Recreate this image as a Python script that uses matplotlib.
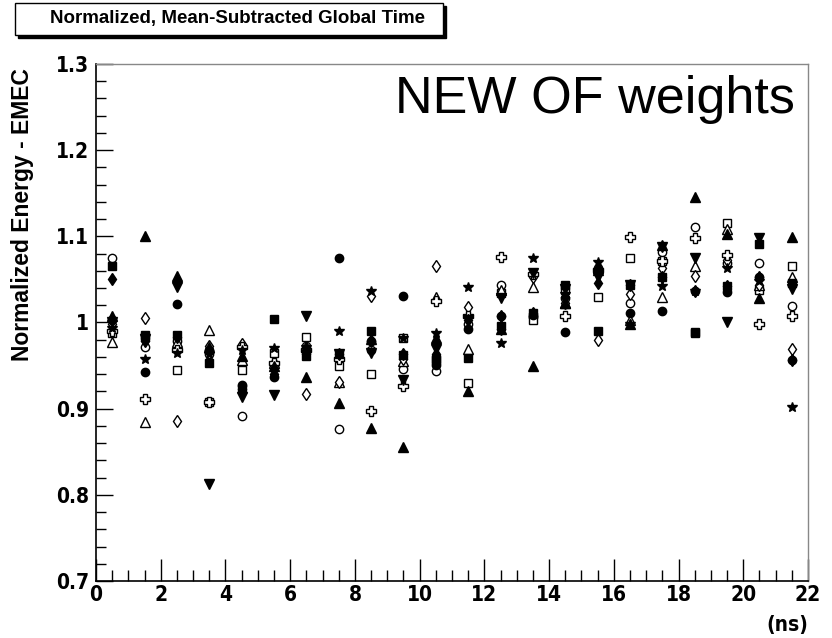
import matplotlib
matplotlib.use("Agg")
import matplotlib.pyplot as plt
from matplotlib.patches import Rectangle
from matplotlib.ticker import MultipleLocator

# time bins (ns)
times = [0.5, 1.5, 2.5, 3.5, 4.5, 5.5, 6.5, 7.5, 8.5, 9.5, 10.5,
         11.5, 12.5, 13.5, 14.5, 15.5, 16.5, 17.5, 18.5, 19.5, 20.5, 21.5]

# normalized energy per channel
filled_circle = [1.003, 0.942, 1.022, 0.968, 0.928, 0.937, 0.967, 1.075, 0.979, 1.031, 0.951,
                 0.992, 1.007, 1.009, 0.989, 1.061, 1.011, 1.013, 1.036, 1.035, 1.053, 0.957]
filled_square = [1.066, 0.986, 0.985, 0.953, 0.923, 1.004, 0.961, 0.963, 0.990, 0.962, 0.957,
                 0.959, 0.996, 1.011, 1.043, 0.990, 1.044, 1.053, 0.988, 1.042, 1.091, 1.046]
filled_tri_up = [1.007, 1.100, 1.054, 0.971, 0.961, 0.950, 0.937, 0.906, 0.878, 0.855, 0.982,
                 0.921, 0.993, 0.950, 1.023, 1.061, 0.998, 1.090, 1.146, 1.103, 1.029, 1.099]
filled_tri_down = [1.001, 0.981, 1.041, 0.812, 0.914, 0.916, 1.008, 0.963, 0.965, 0.933, 0.969,
                   1.003, 1.028, 1.058, 1.039, 1.053, 1.044, 1.088, 1.075, 1.000, 1.098, 1.039]
open_circle = [1.075, 0.971, 0.978, 0.963, 0.892, 0.950, 0.973, 0.876, 0.968, 0.946, 0.944,
               0.998, 1.043, 1.006, 1.028, 1.063, 1.023, 1.082, 1.111, 1.069, 1.069, 1.019]
open_square = [0.988, 0.983, 0.945, 0.908, 0.945, 0.965, 0.983, 0.950, 0.940, 0.982, 0.958,
               0.930, 1.034, 1.003, 1.038, 1.030, 1.075, 1.071, 0.989, 1.115, 1.038, 1.066]
open_tri_up = [0.977, 0.885, 0.977, 0.991, 0.957, 0.953, 0.973, 0.931, 0.981, 0.955, 1.030,
               0.969, 1.038, 1.041, 1.023, 1.063, 1.003, 1.030, 1.065, 1.108, 1.043, 1.053]
open_diamond = [0.998, 1.005, 0.886, 0.973, 0.975, 0.953, 0.917, 0.931, 1.031, 0.958, 1.066,
                1.018, 1.007, 1.053, 1.023, 0.980, 1.033, 1.063, 1.054, 1.073, 1.043, 0.969]
open_cross = [0.990, 0.911, 0.968, 0.908, 0.972, 0.953, 0.968, 0.958, 0.897, 0.926, 1.025,
              1.008, 1.076, 1.056, 1.007, 1.061, 1.099, 1.071, 1.098, 1.078, 0.998, 1.007]
star = [0.994, 0.958, 0.965, 0.963, 0.968, 0.970, 0.971, 0.990, 1.036, 0.982, 0.988,
        1.041, 0.976, 1.075, 1.033, 1.070, 0.998, 1.042, 1.036, 1.063, 1.048, 0.902]
filled_diamond = [1.050, 0.978, 0.983, 0.968, 0.923, 0.940, 0.963, 0.963, 0.978, 0.963, 0.963,
                  1.003, 0.993, 1.011, 1.030, 1.046, 1.044, 1.053, 1.036, 1.042, 1.053, 0.957]

# (values, marker, filled, size)
series = [
    (open_circle, "o", False, 6),
    (open_square, "s", False, 6),
    (open_tri_up, "^", False, 6.5),
    (open_diamond, "d", False, 6.5),
    (open_cross, "P", False, 7),
    (filled_circle, "o", True, 6),
    (filled_square, "s", True, 5.5),
    (filled_tri_up, "^", True, 6.5),
    (filled_tri_down, "v", True, 6.5),
    (star, "*", True, 7.5),
    (filled_diamond, "d", True, 6.5),
]

tick_font = dict(family="DejaVu Sans", stretch="condensed", weight="bold", size=15)

fig = plt.figure(figsize=(8.32, 6.38), dpi=100)
ax = fig.add_axes([96 / 832, 1 - 581 / 638, (808 - 96) / 832, (581 - 64) / 638])

for vals, m, filled, ms in series:
    ax.plot(times, vals, linestyle="none", marker=m, markersize=ms,
            markerfacecolor="black" if filled else "white",
            markeredgecolor="black", markeredgewidth=1.0)

ax.set_xlim(0, 22)
ax.set_ylim(0.7, 1.3)
ax.xaxis.set_major_locator(MultipleLocator(2))
ax.xaxis.set_minor_locator(MultipleLocator(0.5))
ax.yaxis.set_major_locator(MultipleLocator(0.1))
ax.yaxis.set_minor_locator(MultipleLocator(0.02))
ax.tick_params(axis="x", which="major", direction="in", length=16, width=1, pad=3)
ax.tick_params(axis="x", which="minor", direction="in", length=8, width=1)
ax.tick_params(axis="y", which="major", direction="in", length=12, width=1, pad=5)
ax.tick_params(axis="y", which="minor", direction="in", length=7, width=1)
ax.set_xticks(range(0, 23, 2))
ax.set_xticklabels([str(v) for v in range(0, 23, 2)], fontdict=tick_font)
yt = [0.7, 0.8, 0.9, 1.0, 1.1, 1.2, 1.3]
ax.set_yticks(yt)
ax.set_yticklabels(["0.7", "0.8", "0.9", "1", "1.1", "1.2", "1.3"], fontdict=tick_font)

for s in ["top", "right"]:
    ax.spines[s].set_color("#888888")
    ax.spines[s].set_linewidth(1.0)
for s in ["left", "bottom"]:
    ax.spines[s].set_color("black")
    ax.spines[s].set_linewidth(1.2)

ax.text(0.982, 0.905, "NEW OF weights", transform=ax.transAxes, ha="right", va="baseline",
        fontsize=37.5, family="Liberation Sans")

fig.text(808 / 832, 1 - 625 / 638, "(ns)", ha="right", va="center", fontdict=tick_font)
fig.text(23 / 832, 1 - 68 / 638, "Normalized Energy - EMEC", rotation=90, ha="center", va="top",
         family="Liberation Sans", weight="bold", size=16.5)

# title box with shadow
fig.patches.append(Rectangle((18 / 832, 1 - 38 / 638), 428 / 832, 32 / 638,
                             transform=fig.transFigure, facecolor="black", edgecolor="black"))
fig.patches.append(Rectangle((15 / 832, 1 - 35 / 638), 428 / 832, 32 / 638,
                             transform=fig.transFigure, facecolor="white", edgecolor="black", lw=1))
fig.text(50 / 832, 1 - 19 / 638, "Normalized, Mean-Subtracted Global Time", ha="left", va="center",
         family="Liberation Sans", weight="bold", size=13.5)

fig.savefig("out.png", dpi=100)
